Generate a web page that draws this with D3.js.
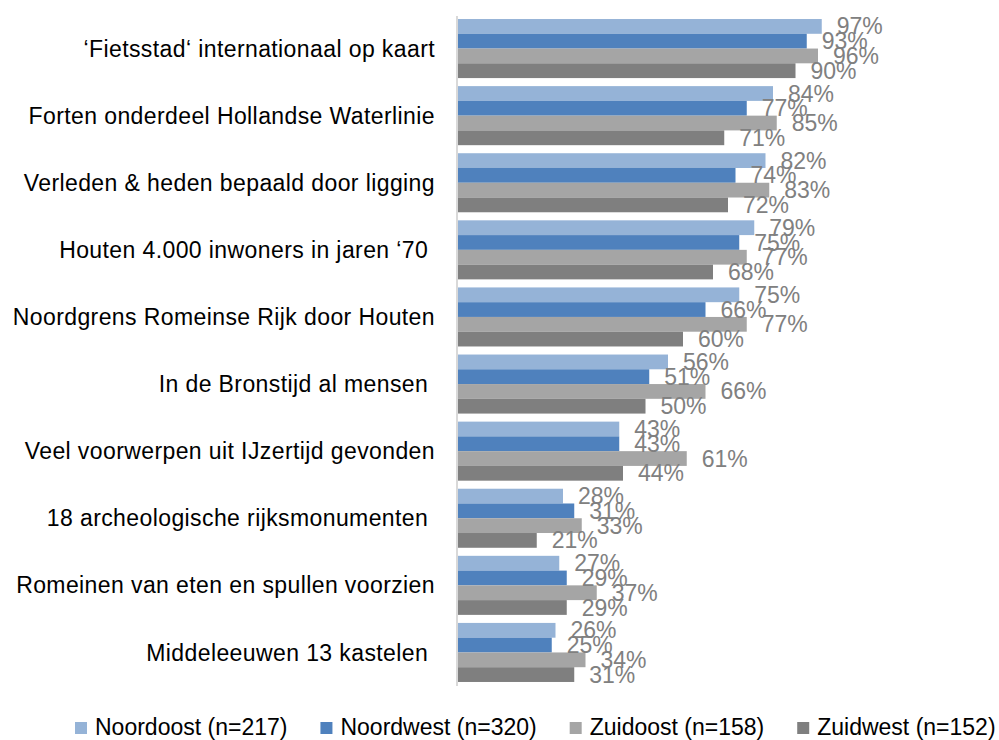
<!DOCTYPE html>
<html>
<head>
<meta charset="utf-8">
<script src="https://cdn.jsdelivr.net/npm/d3@7"></script>
<style>
  body { margin: 0; background: #fff; }
  svg { display: block; font-family: "Liberation Sans", Arial, sans-serif; }
</style>
</head>
<body>
<svg id="chart" width="999" height="740"></svg>
<script>
// ========== Data ==========

const categories = [
    "\u2018Fietsstad\u2018 internationaal op kaart",
    "Forten onderdeel Hollandse Waterlinie",
    "Verleden & heden bepaald door ligging",
    "Houten 4.000 inwoners in jaren \u201870 ",
    "Noordgrens Romeinse Rijk door Houten",
    "In de Bronstijd al mensen ",
    "Veel voorwerpen uit IJzertijd gevonden",
    "18 archeologische rijksmonumenten ",
    "Romeinen van eten en spullen voorzien",
    "Middeleeuwen 13 kastelen "
];

const seriesNames = ["Noordoost (n=217)", "Noordwest (n=320)", "Zuidoost (n=158)", "Zuidwest (n=152)"];

const noordoost = [97, 84, 82, 79, 75, 56, 43, 28, 27, 26];
const noordwest = [93, 77, 74, 75, 66, 51, 43, 31, 29, 25];
const zuidoost  = [96, 85, 83, 77, 77, 66, 61, 33, 37, 34];
const zuidwest  = [90, 71, 72, 68, 60, 50, 44, 21, 29, 31];

const seriesValues = [noordoost, noordwest, zuidoost, zuidwest];
const colors = ["#95b3d7", "#4f81bd", "#a5a5a5", "#7f7f7f"];

// ========== Chart ==========

const svg = d3.select("#chart");

const x0 = 458;
const x = d3.scaleLinear().domain([0, 100]).range([x0, x0 + 375]);

const y = d3.scaleBand()
    .domain(categories)
    .range([15, 686])
    .paddingInner(0.12)
    .paddingOuter(0.06);

const ySub = d3.scaleBand()
    .domain(seriesNames)
    .range([0, y.bandwidth()]);

const rows = categories.map((c, i) => ({
    cat: c,
    vals: seriesNames.map((s, j) => ({ series: s, idx: j, value: seriesValues[j][i] }))
}));

const groups = svg.append("g")
    .selectAll("g")
    .data(rows)
    .join("g")
    .attr("transform", d => `translate(0,${y(d.cat)})`);

groups.selectAll("rect")
    .data(d => d.vals)
    .join("rect")
    .attr("x", x(0))
    .attr("y", d => ySub(d.series))
    .attr("width", d => x(d.value) - x(0))
    .attr("height", ySub.bandwidth())
    .attr("fill", d => colors[d.idx]);

groups.selectAll("text.val")
    .data(d => d.vals)
    .join("text")
    .attr("class", "val")
    .attr("x", d => x(d.value) + 15)
    .attr("y", d => ySub(d.series) + ySub.bandwidth() / 2)
    .attr("dy", "0.35em")
    .attr("fill", "#808080")
    .style("font-size", "23px")
    .text(d => d.value + "%");

// axis line (vertical category axis)
svg.append("line")
    .attr("x1", x0 - 1).attr("x2", x0 - 1)
    .attr("y1", 16).attr("y2", 686)
    .attr("stroke", "#d9d9d9")
    .attr("stroke-width", 2);

// category labels
svg.append("g")
    .selectAll("text")
    .data(categories)
    .join("text")
    .attr("x", 435)
    .attr("y", d => y(d) + y.bandwidth() / 2)
    .attr("dy", "0.35em")
    .attr("text-anchor", "end")
    .attr("fill", "#000")
    .style("font-size", "23px")
    .style("letter-spacing", "0.4px")
    .style("white-space", "pre")
    .text(d => d);

// ========== Legend ==========

const legend = svg.append("g");
let lx = 75;
seriesNames.forEach((name, i) => {
    legend.append("rect")
        .attr("x", lx)
        .attr("y", 722)
        .attr("width", 12)
        .attr("height", 12)
        .attr("fill", colors[i]);
    const t = legend.append("text")
        .attr("x", lx + 20)
        .attr("y", 735)
        .attr("fill", "#000")
        .style("font-size", "23px")
        .text(name);
    lx += 20 + t.node().getComputedTextLength() + 33;
});
</script>
</body>
</html>
